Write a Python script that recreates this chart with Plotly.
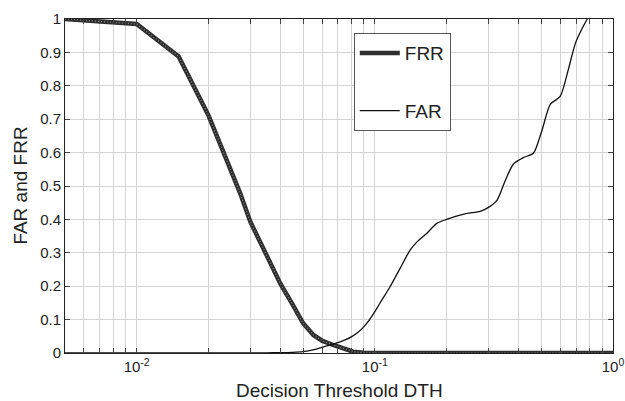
import plotly.graph_objects as go
import numpy as np

# Data
frr_x = [0.005, 0.01, 0.015, 0.02, 0.0272, 0.03, 0.0351, 0.04, 0.0448, 0.05, 0.0552, 0.06,
         0.0668, 0.0738, 0.081, 0.09, 0.1, 0.2, 0.5, 1.0]
frr_y = [1.0, 0.985, 0.888, 0.712, 0.478, 0.393, 0.293, 0.209, 0.149, 0.089, 0.054, 0.037,
         0.024, 0.014, 0.004, 0.001, 0.0, 0.0, 0.0, 0.0]

far_x = [0.005, 0.02, 0.03, 0.035, 0.04, 0.045, 0.05, 0.055, 0.06, 0.065, 0.07, 0.075, 0.08,
         0.085, 0.09, 0.095, 0.1, 0.105, 0.116, 0.128, 0.1406, 0.15, 0.165, 0.182, 0.2, 0.22,
         0.244, 0.277, 0.3, 0.326, 0.35, 0.382, 0.42, 0.463, 0.5, 0.546, 0.6, 0.65, 0.695,
         0.74, 0.78]
far_y = [0.0, 0.0, 0.0, 0.0005, 0.001, 0.002, 0.004, 0.009, 0.017, 0.024, 0.031, 0.039, 0.049,
         0.062, 0.079, 0.1, 0.124, 0.149, 0.199, 0.255, 0.308, 0.332, 0.358, 0.388, 0.40, 0.41,
         0.418, 0.424, 0.436, 0.458, 0.51, 0.566, 0.585, 0.598, 0.66, 0.745, 0.768, 0.85,
         0.927, 0.97, 1.0]

x_decades = [0.01, 0.1, 1.0]
x_decade_labels = ["10<sup>-2</sup>", "10<sup>-1</sup>", "10<sup>0</sup>"]
y_ticks = [round(0.1 * i, 1) for i in range(11)]
y_labels = ["0", "0.1", "0.2", "0.3", "0.4", "0.5", "0.6", "0.7", "0.8", "0.9", "1"]

# log tick positions (minor + major)
tickvals, ticktext = [], []
for d in [0.001, 0.01, 0.1]:
    for m in range(1, 10):
        v = round(d * m, 6)
        if v < 0.005:
            continue
        tickvals.append(v)
        ticktext.append(" ")
for v, t in zip(x_decades, x_decade_labels):
    if v in tickvals:
        ticktext[tickvals.index(v)] = t
    else:
        tickvals.append(v)
        ticktext.append(t)

FONT = "Arial, Liberation Sans, sans-serif"

fig = go.Figure()
fig.add_trace(go.Scatter(x=frr_x, y=frr_y, mode="lines", name="FRR",
                         line=dict(color="#2e2e2e", width=4.5), legendgroup="a"))
fig.add_trace(go.Scatter(x=frr_x, y=frr_y, mode="lines", name="FRR", showlegend=False,
                         line=dict(color="#8a8a8a", width=1.2, dash="1px,2px"),
                         legendgroup="a", hoverinfo="skip"))
fig.add_trace(go.Scatter(x=far_x, y=far_y, mode="lines", name="FAR",
                         line=dict(color="#111111", width=1.3, shape="spline", smoothing=0.7),
                         legendgroup="b"))

axis_common = dict(showline=True, linecolor="#222", linewidth=1, mirror="ticks",
                   ticks="inside", ticklen=5, tickcolor="#444", automargin=False,
                   showgrid=True, gridcolor="#d4d4d4", gridwidth=1, zeroline=False,
                   tickfont=dict(family=FONT, size=15, color="#222"))

fig.update_xaxes(type="log", range=[np.log10(0.005), 0], tickmode="array",
                 tickvals=tickvals, ticktext=ticktext, tickangle=0, **axis_common)
fig.update_yaxes(range=[0, 1], tickmode="array", tickvals=y_ticks, ticktext=y_labels,
                 **axis_common)

fig.update_layout(
    width=625, height=401,
    margin=dict(l=65, r=12, t=19, b=48),
    paper_bgcolor="white", plot_bgcolor="white",
    showlegend=True,
    legend=dict(x=0.527, y=0.958, xanchor="left", yanchor="top",
                bordercolor="#555", borderwidth=1, bgcolor="white",
                font=dict(family=FONT, size=19, color="#222"),
                traceorder="grouped", tracegroupgap=30, itemwidth=40),
    annotations=[
        dict(text="Decision Threshold DTH", x=0.5, y=-0.075, xref="paper", yref="paper",
             xanchor="center", yanchor="top", showarrow=False,
             font=dict(family=FONT, size=19, color="#222")),
        dict(text="FAR and FRR", x=-0.06, y=0.5, xref="paper", yref="paper",
             xanchor="right", yanchor="middle", textangle=-90, showarrow=False,
             font=dict(family=FONT, size=19, color="#222")),
    ],
)

fig.write_html("out.html", config={"displayModeBar": False},
               post_script="document.body.style.margin='0';document.body.style.overflow='hidden';")
